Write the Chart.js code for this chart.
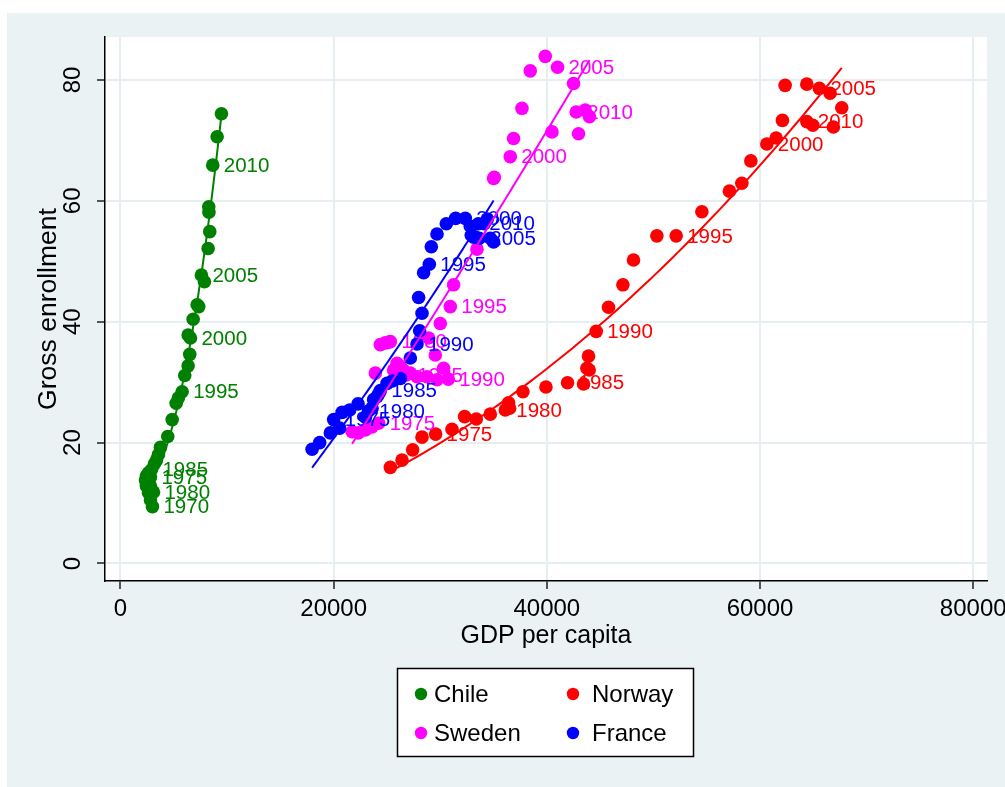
<!DOCTYPE html>
<html><head><meta charset="utf-8">
<script src="https://cdn.jsdelivr.net/npm/chart.js@4/dist/chart.umd.min.js"></script>
<style>html,body{margin:0;padding:0;background:#fff;overflow:hidden}</style>
</head><body>
<canvas id="c" width="1005" height="787"></canvas>
<script>
// ---- data ----
const chileYears = [1970,1971,1972,1973,1974,1975,1976,1977,1978,1979,1980,1981,1982,1983,1984,1985,1986,1987,1988,1989,1991,1992,1993,1994,1995,1996,1997,1998,1999,2000,2001,2002,2003,2004,2005,2006,2007,2008,2009,2010,2011,2012];
const chileGdp = [3000,2813,2625,2438,2344,2813,2625,2438,2625,2813,3094,2813,2532,2438,2625,2907,3188,3376,3563,3751,4435,4848,5223,5438,5785,6029,6348,6498,6348,6564,6817,7192,7342,7876,7595,8223,8373,8279,8298,8654,9067,9470];
const chileEnroll = [9.4,10.5,11.7,13.0,13.8,14.3,13.8,12.8,12.5,12.2,11.8,12.8,13.7,14.5,15.0,15.5,16.5,17.1,18.0,19.2,21.0,23.8,26.5,27.4,28.4,31.1,32.7,34.6,37.8,37.3,40.4,42.8,42.5,46.6,47.7,52.1,54.9,59.0,58.1,65.9,70.6,74.4];

const norwayYears = [1971,1972,1973,1974,1975,1976,1977,1978,1979,1980,1981,1982,1983,1984,1985,1986,1987,1988,1989,1990,1991,1992,1993,1994,1995,1996,1997,1998,1999,2000,2001,2002,2003,2004,2005,2006,2007,2008,2009,2010];
const norwayGdp = [25317,26413,27408,28289,29564,31102,32283,33380,34693,36100,36503,36409,37759,39916,41941,43441,43976,43760,43910,44632,45785,47136,48130,50324,52133,54543,57131,58294,59138,60638,61510,62101,62354,64389,65570,66573,67670,66883,64951,64389];
const norwayEnroll = [15.9,17.1,18.8,20.9,21.4,22.2,24.3,23.9,24.7,25.4,25.7,26.6,28.4,29.2,29.9,29.7,32.0,32.3,34.3,38.4,42.4,46.1,50.2,54.2,54.2,58.2,61.6,62.9,66.6,69.4,70.4,73.3,79.1,79.3,78.6,77.8,75.4,72.2,72.5,73.1];

const swedenYears = [1971,1972,1973,1974,1975,1976,1977,1978,1979,1980,1981,1982,1983,1984,1985,1986,1987,1988,1989,1990,1991,1992,1993,1994,1995,1996,1997,1998,1999,2000,2001,2002,2003,2004,2005,2006,2007,2008,2009,2010,2011];
const swedenGdp = [21725,22316,22972,23601,24220,23910,24379,24848,25129,25317,25626,25945,26254,26535,26817,27192,27820,28758,29695,30755,30314,29536,28908,30005,30942,31252,33446,35003,35068,36568,36878,37665,38444,39850,41004,42504,44004,43601,40478,42757,42973];
const swedenEnroll = [21.8,21.6,22.1,22.6,23.2,31.5,36.2,36.5,36.6,36.7,32.0,33.1,32.6,32.0,31.2,31.5,30.9,30.9,30.4,30.5,32.3,34.5,37.3,39.7,42.5,46.1,52.0,63.7,63.9,67.3,70.3,75.3,81.5,83.9,82.1,79.4,73.9,75.0,71.4,74.7,71.1];

const franceYears = [1971,1972,1973,1974,1975,1976,1977,1978,1979,1980,1981,1982,1983,1984,1985,1986,1987,1988,1989,1990,1991,1992,1993,1994,1995,1996,1997,1998,1999,2000,2001,2002,2003,2004,2005,2006,2007,2008,2009,2010];
const franceGdp = [17975,18687,19691,20563,20000,20788,21500,22288,22972,23254,23601,23751,24070,24238,24379,25007,25504,26254,27192,27820,28064,28289,27970,28439,28973,29161,29695,30567,31439,32349,32818,32912,33127,33287,33662,34130,34412,34693,35003,33568];
const franceEnroll = [18.9,20.0,21.6,22.4,23.8,25.0,25.4,26.4,24.2,25.2,25.7,27.1,27.6,28.1,28.6,29.8,30.2,30.6,34.0,36.3,38.5,41.4,44.0,48.1,49.5,52.4,54.5,56.2,57.1,57.1,55.8,54.3,54.0,54.0,53.8,56.2,57.0,53.8,53.2,56.2];

const labelYears = [1970,1975,1980,1985,1990,1995,2000,2005,2010];
const xTicks = [0,20000,40000,60000,80000];
const yTicks = [0,20,40,60,80];
const xTitle = 'GDP per capita';
const yTitle = 'Gross enrollment';

// ---- styling ----
const FONT = "'Liberation Sans', Arial, Helvetica, sans-serif";
const BG = '#EAF2F3';
const GRID = '#E6EEF1';

const series = [
  {name:'Chile',  color:'#008000', years:chileYears,  x:chileGdp,  y:chileEnroll},
  {name:'Norway', color:'#FF0000', years:norwayYears, x:norwayGdp, y:norwayEnroll},
  {name:'Sweden', color:'#FF00FF', years:swedenYears, x:swedenGdp, y:swedenEnroll},
  {name:'France', color:'#0000FF', years:franceYears, x:franceGdp, y:franceEnroll}
];

// quadratic least-squares fit (as Stata qfit)
function qfit(xs, ys){
  const s = 1e4;
  const A = [[0,0,0],[0,0,0],[0,0,0]], b = [0,0,0];
  for (let i=0;i<xs.length;i++){
    const t = xs[i]/s, p=[1,t,t*t];
    for (let j=0;j<3;j++){ b[j]+=p[j]*ys[i]; for(let k=0;k<3;k++) A[j][k]+=p[j]*p[k]; }
  }
  for (let c=0;c<3;c++){
    let piv=c; for(let r=c+1;r<3;r++) if(Math.abs(A[r][c])>Math.abs(A[piv][c])) piv=r;
    [A[c],A[piv]]=[A[piv],A[c]]; [b[c],b[piv]]=[b[piv],b[c]];
    for(let r=c+1;r<3;r++){ const f=A[r][c]/A[c][c]; for(let k=c;k<3;k++) A[r][k]-=f*A[c][k]; b[r]-=f*b[c]; }
  }
  const co=[0,0,0];
  for(let r=2;r>=0;r--){ let v=b[r]; for(let k=r+1;k<3;k++) v-=A[r][k]*co[k]; co[r]=v/A[r][r]; }
  const lo=Math.min(...xs), hi=Math.max(...xs), pts=[];
  const n=80;
  for(let i=0;i<=n;i++){ const x=lo+(hi-lo)*i/n, t=x/s; pts.push({x, y:co[0]+co[1]*t+co[2]*t*t}); }
  return pts;
}

const datasets = [];
series.forEach((s, i) => {
  datasets.push({
    label: s.name, type:'scatter',
    data: s.x.map((v,k)=>({x:v, y:s.y[k], year:s.years[k]})),
    pointRadius: 6.8, pointHoverRadius: 6.8, pointBorderWidth: 0,
    pointBackgroundColor: s.color, backgroundColor: s.color, borderColor: s.color,
    order: 10 - i, isMain: true, seriesIndex: i
  });
});
series.forEach((s, i) => {
  datasets.push({
    label: s.name + ' fit', type:'scatter', showLine:true,
    data: qfit(s.x, s.y),
    pointRadius: 0, pointHoverRadius:0, borderWidth: 2, borderColor: s.color, fill:false,
    order: 5 - i
  });
});

const bgPlugin = {
  id:'bg',
  beforeDraw(chart){
    const ctx = chart.ctx, a = chart.chartArea;
    ctx.save();
    ctx.fillStyle = '#FFFFFF'; ctx.fillRect(0,0,chart.width,chart.height);
    ctx.fillStyle = BG; ctx.fillRect(7,13,chart.width-7,chart.height-13);
    ctx.fillStyle = '#FFFFFF'; ctx.fillRect(a.left,a.top,a.right-a.left,a.bottom-a.top);
    ctx.restore();
  }
};

const labelPlugin = {
  id:'yearLabels',
  afterDatasetDraw(chart, args){
    const ds = chart.data.datasets[args.index];
    if (!ds.isMain) return;
    const ctx = chart.ctx, a = chart.chartArea;
    ctx.save();
    ctx.beginPath(); ctx.rect(a.left, a.top, a.right-a.left, a.bottom-a.top); ctx.clip();
    ctx.font = '20.5px ' + FONT;
    ctx.fillStyle = series[ds.seriesIndex].color;
    ctx.textAlign = 'left'; ctx.textBaseline = 'middle';
    args.meta.data.forEach((el, k) => {
      const d = ds.data[k];
      if (labelYears.includes(d.year)) ctx.fillText(String(d.year), el.x + 11, el.y + 1);
    });
    ctx.restore();
  }
};

const textPlugin = {
  id:'texts',
  afterDraw(chart){
    const ctx = chart.ctx, ys = chart.scales.y, a = chart.chartArea;
    ctx.save();
    ctx.fillStyle = '#000';
    ctx.font = '24px ' + FONT;
    yTicks.forEach(v => {
      const py = ys.getPixelForValue(v);
      ctx.save(); ctx.translate(80, py); ctx.rotate(-Math.PI/2);
      ctx.textAlign='center'; ctx.textBaseline='alphabetic';
      ctx.fillText(String(v), 0, 0); ctx.restore();
    });
    ctx.font = '26.5px ' + FONT;
    ctx.save(); ctx.translate(56, (a.top+a.bottom)/2); ctx.rotate(-Math.PI/2);
    ctx.textAlign='center'; ctx.textBaseline='alphabetic';
    ctx.fillText(yTitle, 0, 0); ctx.restore();
    ctx.font = '25px ' + FONT;
    ctx.textAlign='center'; ctx.textBaseline='alphabetic';
    ctx.fillText(xTitle, (a.left+a.right)/2, 643);
    const lx=397.5, ly=668.5, lw=296, lh=88;
    ctx.fillStyle='#FFFFFF'; ctx.fillRect(lx,ly,lw,lh);
    ctx.strokeStyle='#000'; ctx.lineWidth=1.5; ctx.strokeRect(lx,ly,lw,lh);
    const pos = [[421,694],[573,694],[421,733],[573,733]];
    ctx.font = '24px ' + FONT; ctx.textAlign='left'; ctx.textBaseline='middle';
    series.forEach((s,i)=>{
      const [mx,my]=pos[i];
      ctx.fillStyle=s.color; ctx.beginPath(); ctx.arc(mx,my,6.2,0,Math.PI*2); ctx.fill();
      ctx.fillStyle='#000'; ctx.fillText(s.name, mx + (i%2===0?13:19), my+1);
    });
    ctx.restore();
  }
};

new Chart(document.getElementById('c'), {
  type:'scatter',
  data:{datasets},
  options:{
    responsive:false, animation:false, devicePixelRatio:1,
    layout:{padding:{top:37,right:18,bottom:0,left:0}},
    plugins:{legend:{display:false}, tooltip:{enabled:false}},
    events:[],
    scales:{
      x:{
        type:'linear', position:'bottom', min:-1453, max:81294,
        afterBuildTicks(sc){ sc.ticks = xTicks.map(v=>({value:v})); },
        afterFit(sc){ sc.height = 206; sc.paddingLeft = 0; sc.paddingRight = 0; },
        ticks:{ color:'#000', font:{family:FONT, size:24}, padding:6, maxRotation:0, autoSkip:false,
                callback:(v)=>String(v) },
        grid:{ color:GRID, lineWidth:2, drawTicks:true, tickLength:8, tickColor:'#000', tickWidth:1.3 },
        border:{ color:'#000', width:1.5 }
      },
      y:{
        type:'linear', position:'left', min:-2.9, max:87.1,
        afterBuildTicks(sc){ sc.ticks = yTicks.map(v=>({value:v})); },
        afterFit(sc){ sc.width = 105; sc.paddingTop = 0; sc.paddingBottom = 0; },
        ticks:{ display:false },
        grid:{ color:GRID, lineWidth:2, drawTicks:true, tickLength:8, tickColor:'#000', tickWidth:1.3 },
        border:{ color:'#000', width:1.5 }
      }
    }
  },
  plugins:[bgPlugin, labelPlugin, textPlugin]
});
</script>
</body></html>
